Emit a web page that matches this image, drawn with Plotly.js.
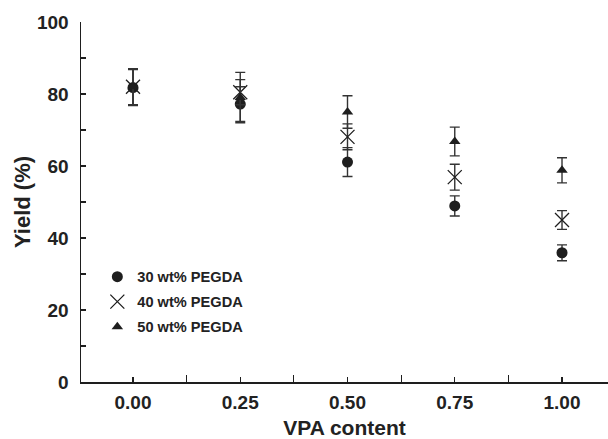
<!DOCTYPE html>
<html>
<head>
<meta charset="utf-8">
<script src="https://cdn.plot.ly/plotly-3.0.1.min.js"></script>
<style>html,body{margin:0;padding:0;background:#fff;}#chart{width:608px;height:439px;}</style>
</head>
<body>
<div id="chart"></div>
<script>
const vpaContent = [0, 0.25, 0.5, 0.75, 1.0];
const seriesNames = ["30 wt% PEGDA", "40 wt% PEGDA", "50 wt% PEGDA"];
const yield30 = [81.8, 77.2, 61.1, 48.9, 35.9];
const err30 = [5.0, 4.8, 4.0, 2.8, 2.2];
const yield40 = [82.0, 80.5, 68.1, 56.9, 45.0];
const err40 = [5.0, 3.5, 3.6, 3.6, 2.6];
const yield50 = [82.0, 79.0, 75.0, 66.8, 58.8];
const err50 = [5.0, 7.0, 4.5, 4.0, 3.5];

const ink = '#1e1e1e';
const barInk = '#333333';
const fontFam = 'Liberation Sans, Arial, sans-serif';

function errCfg(arr){
  return {type:'data', array:arr, visible:true, color:barInk, thickness:1.4, width:5};
}

const traces = [
  {x:vpaContent, y:yield30, name:seriesNames[0], type:'scatter', mode:'markers', legendgroup:'a',
   marker:{symbol:'circle', size:11, color:ink}, error_y:errCfg(err30)},
  {x:vpaContent, y:yield40, name:seriesNames[1], type:'scatter', mode:'markers', legendgroup:'b',
   marker:{symbol:'x-thin-open', size:14, color:ink, line:{color:ink, width:1.3}}, error_y:errCfg(err40)},
  {x:vpaContent, y:yield50, name:seriesNames[2], type:'scatter', mode:'markers', legendgroup:'c',
   marker:{symbol:'triangle-up', size:10, color:ink}, error_y:errCfg(err50)}
];

const layout = {
  width:608, height:439,
  margin:{l:81, r:0, t:22, b:57},
  paper_bgcolor:'#fff', plot_bgcolor:'#fff',
  font:{family:fontFam, color:'#222', size:17},
  showlegend:true,
  legend:{x:0.031, y:0.337, xanchor:'left', yanchor:'top', bgcolor:'rgba(0,0,0,0)',
          font:{family:fontFam, size:14.6, color:'#222', weight:'bold'}, tracegroupgap:3, itemwidth:30},
  xaxis:{range:[-0.1212, 1.1072], showgrid:false, zeroline:false, showline:true, linecolor:ink, linewidth:1.5,
         ticks:'inside', ticklen:5, tickwidth:1.2, tickcolor:ink, tickmode:'linear', tick0:0, dtick:0.25,
         tickformat:'.2f', tickfont:{size:19, weight:'bold', color:'#222'}, ticklabelstandoff:3,
         minor:{ticks:'inside', tickmode:'linear', tick0:0.125, dtick:0.25, ticklen:7, tickwidth:1.2, tickcolor:ink},
         title:{text:'VPA content', font:{size:21, weight:'bold', color:'#222'}, standoff:9}},
  yaxis:{range:[0,100], showgrid:false, zeroline:false, showline:true, linecolor:ink, linewidth:1.5,
         ticks:'inside', ticklen:5, tickwidth:1.2, tickcolor:ink, tickmode:'linear', tick0:0, dtick:20,
         tickfont:{size:19, weight:'bold', color:'#222'}, ticklabelstandoff:7,
         minor:{ticks:'inside', dtick:10, ticklen:5, tickwidth:1.2, tickcolor:ink},
         title:{text:'Yield (%)', font:{size:22, weight:'bold', color:'#222'}, standoff:0}}
};

Plotly.newPlot('chart', traces, layout, {displayModeBar:false, staticPlot:true});
</script>
</body>
</html>
